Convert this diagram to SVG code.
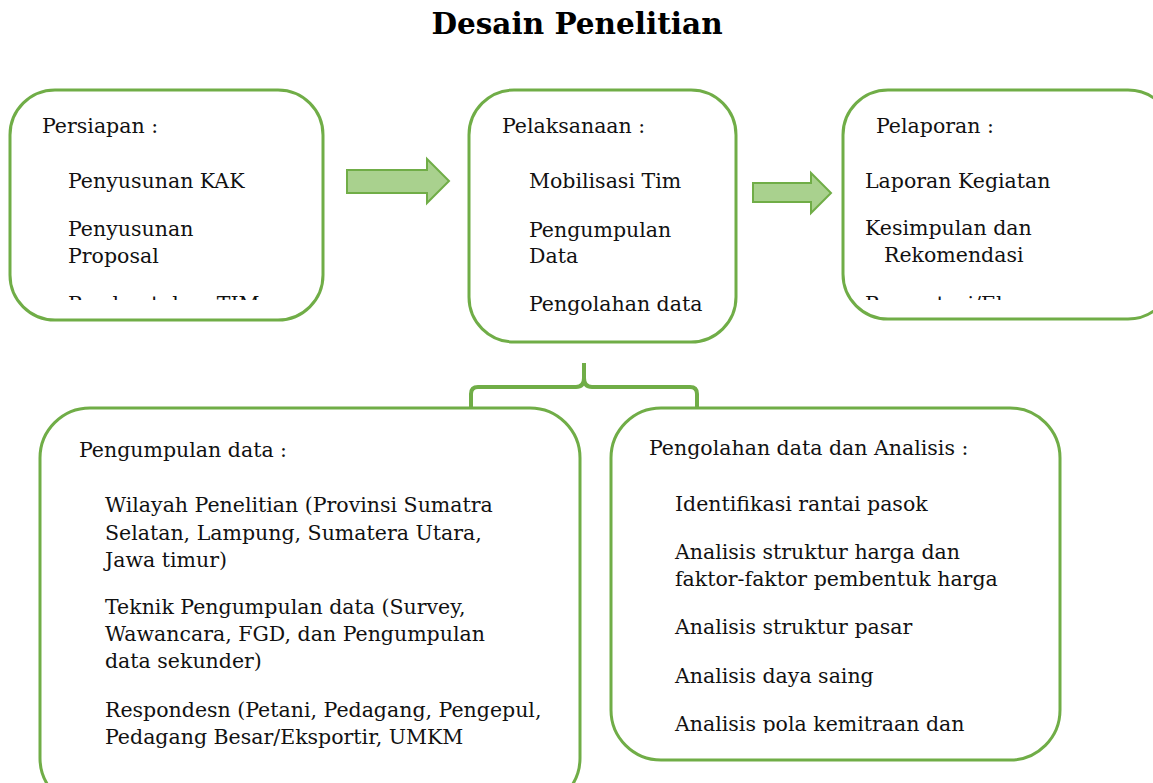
<svg xmlns="http://www.w3.org/2000/svg" width="1153" height="783" viewBox="0 0 1153 783">
<style>
.box{fill:#fff;stroke:#70AD47;stroke-width:3}
.t{font-family:"DejaVu Serif","Liberation Serif",serif;font-size:20.5px;fill:#111}
.title{font-family:"DejaVu Serif","Liberation Serif",serif;font-size:29.5px;font-weight:bold;fill:#000}
.arrow{fill:#A9D18E;stroke:#70AD47;stroke-width:2;stroke-linejoin:miter}
.brace{fill:none;stroke:#70AD47;stroke-width:4;stroke-linejoin:round}
</style>
<defs>
<clipPath id="c1"><rect x="10" y="90" width="313" height="210"/></clipPath>
<clipPath id="c3"><rect x="843" y="90" width="310" height="210"/></clipPath>
<clipPath id="c5"><rect x="611" y="408" width="449" height="325"/></clipPath>
</defs>
<rect width="1153" height="783" fill="#fff"/>
<text class="title" x="577" y="34" text-anchor="middle">Desain Penelitian</text>

<g id="connectors">
<path class="arrow" d="M347,170 L427,170 L427,159 L449,181 L427,203 L427,193 L347,193 Z"/>
<path class="arrow" d="M753,183 L811,183 L811,173 L831,193 L811,213 L811,202 L753,202 Z"/>
<path class="brace" d="M471,410 L471,394 Q471,387 478,387 L576,387 Q584,387 584,378 L584,363 M584,378 Q584,387 592,387 L690,387 Q697,387 697,394 L697,410"/>
</g>

<g id="persiapan">
<rect class="box" x="10" y="90" width="313" height="230" rx="45"/>
<text class="t" x="42" y="133">Persiapan :</text>
<text class="t" x="68" y="188">Penyusunan KAK</text>
<text class="t" x="68" y="236">Penyusunan</text>
<text class="t" x="68" y="263">Proposal</text>
<text class="t" x="68" y="311" clip-path="url(#c1)">Pembentukan TIM</text>
</g>

<g id="pelaksanaan">
<rect class="box" x="469" y="90" width="267" height="252" rx="45"/>
<text class="t" x="502" y="133">Pelaksanaan :</text>
<text class="t" x="529" y="188">Mobilisasi Tim</text>
<text class="t" x="529" y="237">Pengumpulan</text>
<text class="t" x="529" y="263">Data</text>
<text class="t" x="529" y="311">Pengolahan data</text>
</g>

<g id="pelaporan">
<rect class="box" x="843" y="90" width="330" height="229" rx="45"/>
<text class="t" x="876" y="133">Pelaporan :</text>
<text class="t" x="865" y="188">Laporan Kegiatan</text>
<text class="t" x="865" y="235">Kesimpulan dan</text>
<text class="t" x="884" y="262">Rekomendasi</text>
<text class="t" x="865" y="311" clip-path="url(#c3)">Presentasi/Ekspose</text>
</g>

<g id="pengumpulan-data">
<rect class="box" x="40" y="408" width="540" height="400" rx="50"/>
<text class="t" x="79" y="457">Pengumpulan data :</text>
<text class="t" x="105" y="512">Wilayah Penelitian (Provinsi Sumatra</text>
<text class="t" x="105" y="540">Selatan, Lampung, Sumatera Utara,</text>
<text class="t" x="105" y="567">Jawa timur)</text>
<text class="t" x="105" y="614">Teknik Pengumpulan data (Survey,</text>
<text class="t" x="105" y="641">Wawancara, FGD, dan Pengumpulan</text>
<text class="t" x="105" y="668">data sekunder)</text>
<text class="t" x="105" y="717">Respondesn (Petani, Pedagang, Pengepul,</text>
<text class="t" x="105" y="744">Pedagang Besar/Eksportir, UMKM</text>
</g>

<g id="pengolahan-data">
<rect class="box" x="611" y="408" width="449" height="352" rx="50"/>
<text class="t" x="649" y="455">Pengolahan data dan Analisis :</text>
<text class="t" x="675" y="511">Identifikasi rantai pasok</text>
<text class="t" x="675" y="559">Analisis struktur harga dan</text>
<text class="t" x="675" y="586">faktor-faktor pembentuk harga</text>
<text class="t" x="675" y="634">Analisis struktur pasar</text>
<text class="t" x="675" y="683">Analisis daya saing</text>
<text class="t" x="675" y="731" clip-path="url(#c5)">Analisis pola kemitraan dan</text>
</g>
</svg>
